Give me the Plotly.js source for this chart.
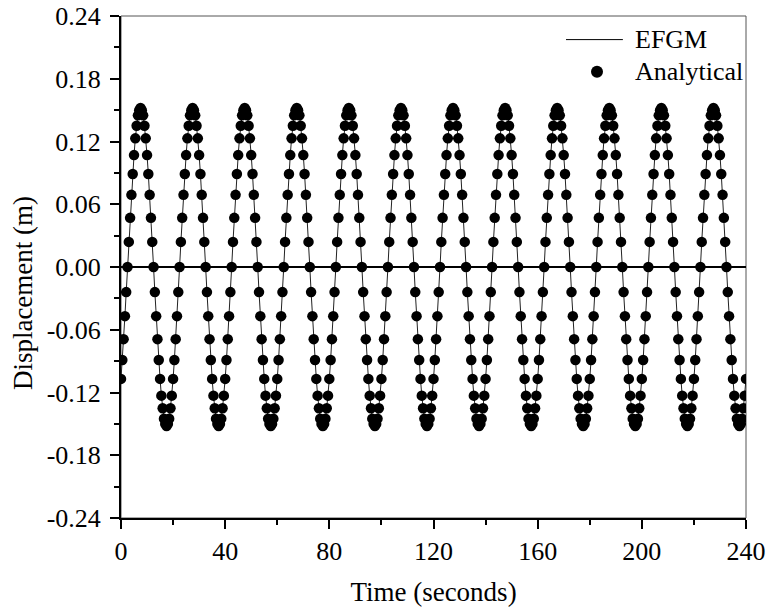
<!DOCTYPE html>
<html>
<head>
<meta charset="utf-8">
<script src="https://cdn.plot.ly/plotly-3.0.1.min.js"></script>
<style>html,body{margin:0;padding:0;background:#fff;}#chart{width:770px;height:609px;}</style>
</head>
<body>
<div id="chart"></div>
<script>
// Time axis: samples every 0.5 s starting at t = 0 (read from the dot spacing)
const tStart = 0;
const tStep = 0.5;

// Analytical displacement (m), one value per dot
const analytical = [
-0.107,-0.089,-0.069,-0.047,-0.024,0,0.024,0.047,0.069,0.089,0.107,0.123,0.135,0.145,0.150,0.152,0.150,0.145,0.135,0.123,0.107,0.089,0.069,0.047,0.024,0,-0.024,-0.047,-0.069,-0.089,-0.107,-0.123,-0.135,-0.145,-0.150,-0.152,-0.150,-0.145,-0.135,-0.123,
-0.107,-0.089,-0.069,-0.047,-0.024,0,0.024,0.047,0.069,0.089,0.107,0.123,0.135,0.145,0.150,0.152,0.150,0.145,0.135,0.123,0.107,0.089,0.069,0.047,0.024,0,-0.024,-0.047,-0.069,-0.089,-0.107,-0.123,-0.135,-0.145,-0.150,-0.152,-0.150,-0.145,-0.135,-0.123,
-0.107,-0.089,-0.069,-0.047,-0.024,0,0.024,0.047,0.069,0.089,0.107,0.123,0.135,0.145,0.150,0.152,0.150,0.145,0.135,0.123,0.107,0.089,0.069,0.047,0.024,0,-0.024,-0.047,-0.069,-0.089,-0.107,-0.123,-0.135,-0.145,-0.150,-0.152,-0.150,-0.145,-0.135,-0.123,
-0.107,-0.089,-0.069,-0.047,-0.024,0,0.024,0.047,0.069,0.089,0.107,0.123,0.135,0.145,0.150,0.152,0.150,0.145,0.135,0.123,0.107,0.089,0.069,0.047,0.024,0,-0.024,-0.047,-0.069,-0.089,-0.107,-0.123,-0.135,-0.145,-0.150,-0.152,-0.150,-0.145,-0.135,-0.123,
-0.107,-0.089,-0.069,-0.047,-0.024,0,0.024,0.047,0.069,0.089,0.107,0.123,0.135,0.145,0.150,0.152,0.150,0.145,0.135,0.123,0.107,0.089,0.069,0.047,0.024,0,-0.024,-0.047,-0.069,-0.089,-0.107,-0.123,-0.135,-0.145,-0.150,-0.152,-0.150,-0.145,-0.135,-0.123,
-0.107,-0.089,-0.069,-0.047,-0.024,0,0.024,0.047,0.069,0.089,0.107,0.123,0.135,0.145,0.150,0.152,0.150,0.145,0.135,0.123,0.107,0.089,0.069,0.047,0.024,0,-0.024,-0.047,-0.069,-0.089,-0.107,-0.123,-0.135,-0.145,-0.150,-0.152,-0.150,-0.145,-0.135,-0.123,
-0.107,-0.089,-0.069,-0.047,-0.024,0,0.024,0.047,0.069,0.089,0.107,0.123,0.135,0.145,0.150,0.152,0.150,0.145,0.135,0.123,0.107,0.089,0.069,0.047,0.024,0,-0.024,-0.047,-0.069,-0.089,-0.107,-0.123,-0.135,-0.145,-0.150,-0.152,-0.150,-0.145,-0.135,-0.123,
-0.107,-0.089,-0.069,-0.047,-0.024,0,0.024,0.047,0.069,0.089,0.107,0.123,0.135,0.145,0.150,0.152,0.150,0.145,0.135,0.123,0.107,0.089,0.069,0.047,0.024,0,-0.024,-0.047,-0.069,-0.089,-0.107,-0.123,-0.135,-0.145,-0.150,-0.152,-0.150,-0.145,-0.135,-0.123,
-0.107,-0.089,-0.069,-0.047,-0.024,0,0.024,0.047,0.069,0.089,0.107,0.123,0.135,0.145,0.150,0.152,0.150,0.145,0.135,0.123,0.107,0.089,0.069,0.047,0.024,0,-0.024,-0.047,-0.069,-0.089,-0.107,-0.123,-0.135,-0.145,-0.150,-0.152,-0.150,-0.145,-0.135,-0.123,
-0.107,-0.089,-0.069,-0.047,-0.024,0,0.024,0.047,0.069,0.089,0.107,0.123,0.135,0.145,0.150,0.152,0.150,0.145,0.135,0.123,0.107,0.089,0.069,0.047,0.024,0,-0.024,-0.047,-0.069,-0.089,-0.107,-0.123,-0.135,-0.145,-0.150,-0.152,-0.150,-0.145,-0.135,-0.123,
-0.107,-0.089,-0.069,-0.047,-0.024,0,0.024,0.047,0.069,0.089,0.107,0.123,0.135,0.145,0.150,0.152,0.150,0.145,0.135,0.123,0.107,0.089,0.069,0.047,0.024,0,-0.024,-0.047,-0.069,-0.089,-0.107,-0.123,-0.135,-0.145,-0.150,-0.152,-0.150,-0.145,-0.135,-0.123,
-0.107,-0.089,-0.069,-0.047,-0.024,0,0.024,0.047,0.069,0.089,0.107,0.123,0.135,0.145,0.150,0.152,0.150,0.145,0.135,0.123,0.107,0.089,0.069,0.047,0.024,0,-0.024,-0.047,-0.069,-0.089,-0.107,-0.123,-0.135,-0.145,-0.150,-0.152,-0.150,-0.145,-0.135,-0.123,
-0.107
];

// EFGM solution coincides with the analytical one at the picture's resolution
const efgm = analytical;

// Tick labels
const xTickVals = [0, 40, 80, 120, 160, 200, 240];
const xTickText = ['0', '40', '80', '120', '160', '200', '240'];
const yTickVals = [-0.24, -0.18, -0.12, -0.06, 0, 0.06, 0.12, 0.18, 0.24];
const yTickText = ['-0.24', '-0.18', '-0.12', '-0.06', '0.00', '0.06', '0.12', '0.18', '0.24'];

const seriesNames = ['EFGM', 'Analytical'];
const axisTitles = ['Time (seconds)', 'Displacement (m)'];
const FONT = 'Liberation Serif, Times New Roman, serif';

const traces = [
  {
    type: 'scatter', mode: 'lines', name: seriesNames[0],
    x0: tStart, dx: tStep, y: efgm,
    line: {color: '#222', width: 1}, showlegend: false
  },
  {
    type: 'scatter', mode: 'markers', name: seriesNames[1],
    x0: tStart, dx: tStep, y: analytical,
    marker: {color: '#000', size: 10.5, line: {width: 0}}, showlegend: false
  }
];

const axisCommon = {
  showgrid: false,
  showline: true, linewidth: 2, linecolor: '#000',
  ticks: 'outside', ticklen: 9, tickwidth: 2, tickcolor: '#000',
  tickfont: {family: FONT, size: 26, color: '#000'}
};

const layout = {
  width: 770, height: 609,
  margin: {l: 121, r: 24, t: 16, b: 91, pad: 0},
  paper_bgcolor: '#fff', plot_bgcolor: '#fff',
  font: {family: FONT, size: 26, color: '#000'},
  showlegend: false,
  xaxis: Object.assign({}, axisCommon, {
    range: [0, 240], zeroline: false,
    tickmode: 'array', tickvals: xTickVals, ticktext: xTickText,
    minor: {dtick: 20, tick0: 0, ticks: 'outside', ticklen: 5, tickwidth: 2, tickcolor: '#000', showgrid: false},
    title: {text: axisTitles[0], font: {family: FONT, size: 27, color: '#000'}, standoff: 17}
  }),
  yaxis: Object.assign({}, axisCommon, {
    range: [-0.24, 0.24],
    zeroline: true, zerolinecolor: '#000', zerolinewidth: 2,
    tickmode: 'array', tickvals: yTickVals, ticktext: yTickText,
    ticklabelstandoff: 4,
    minor: {dtick: 0.03, tick0: 0, ticks: 'outside', ticklen: 5, tickwidth: 2, tickcolor: '#000', showgrid: false}
  }),
  shapes: [
    // thin frame on top and right
    {type: 'rect', xref: 'paper', yref: 'paper', x0: 0, x1: 1, y0: 0, y1: 1,
     line: {color: '#555', width: 1}, fillcolor: 'rgba(0,0,0,0)', layer: 'below'},
    // legend line sample
    {type: 'line', xref: 'paper', yref: 'paper', x0: 0.712, x1: 0.803, y0: 0.953, y1: 0.953,
     line: {color: '#000', width: 1}},
    // legend marker sample
    {type: 'circle', xref: 'paper', yref: 'paper', xsizemode: 'pixel', ysizemode: 'pixel',
     xanchor: 0.7616, yanchor: 0.889, x0: -6, x1: 6, y0: -6, y1: 6,
     fillcolor: '#000', line: {width: 0}}
  ],
  annotations: [
    {xref: 'paper', yref: 'paper', x: 0.819, y: 0.953, xanchor: 'left', yanchor: 'middle',
     text: seriesNames[0], showarrow: false, font: {family: FONT, size: 26, color: '#000'}},
    {xref: 'paper', yref: 'paper', x: 0.819, y: 0.889, xanchor: 'left', yanchor: 'middle',
     text: seriesNames[1], showarrow: false, font: {family: FONT, size: 26, color: '#000'}},
    // y-axis title
    {xref: 'paper', yref: 'paper', x: -0.1568, y: 0.448, xanchor: 'center', yanchor: 'middle',
     textangle: -90, text: axisTitles[1], showarrow: false,
     font: {family: FONT, size: 27, color: '#000'}}
  ]
};

Plotly.newPlot('chart', traces, layout, {displayModeBar: false, staticPlot: true});
</script>
</body>
</html>
